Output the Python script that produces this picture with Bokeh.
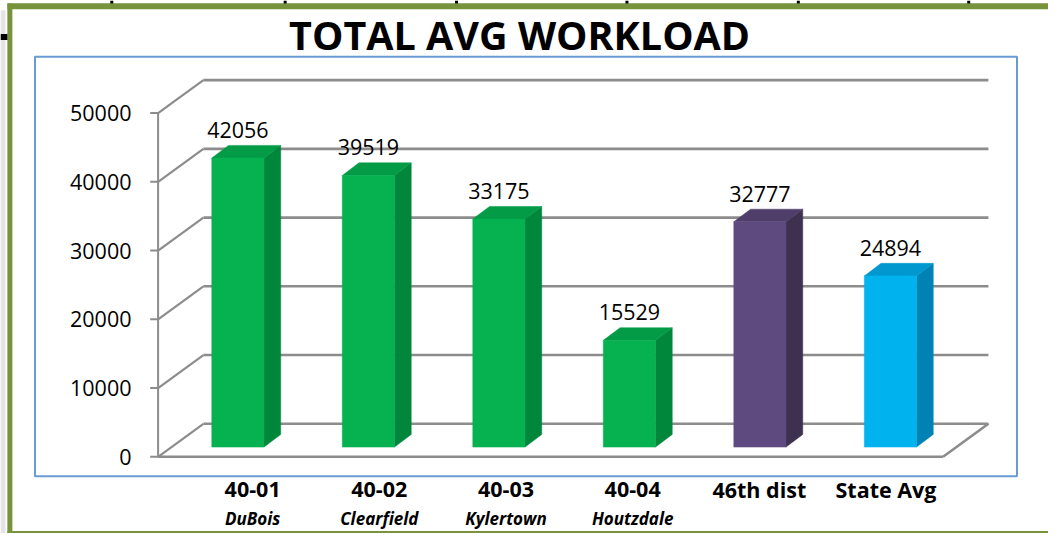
from bokeh.plotting import figure
from bokeh.models import Range1d
from bokeh.core.properties import value
from bokeh.embed import file_html
from bokeh.resources import INLINE

# ---------------- data ----------------
chart_title = "TOTAL AVG WORKLOAD"
codes = ["40-01", "40-02", "40-03", "40-04", "46th dist", "State Avg"]
towns = ["DuBois", "Clearfield", "Kylertown", "Houtzdale", "", ""]
workload = [42056, 39519, 33175, 15529, 32777, 24894]
y_ticks = [0, 10000, 20000, 30000, 40000, 50000]
y_tick_labels = ["0", "10000", "20000", "30000", "40000", "50000"]

# ---------------- styles ----------------
front_col = ["#06B150", "#06B150", "#06B150", "#06B150", "#5F4A80", "#00B3EF"]
side_col = ["#00873C", "#00873C", "#00873C", "#00873C", "#3E3150", "#0082B4"]
top_col = ["#039B46", "#039B46", "#039B46", "#039B46", "#4F3E6A", "#0098CF"]
GRID = "#8C8C8C"
OLIVE = "#77933C"
FONT = "Open Sans"

# ---------------- geometry (reference pixels) ----------------
W, H = 1048, 533
REF_W, REF_H = 1064, 549
SY = H / REF_H
PX = 354 / 50000.0           # reference pixels per unit of workload
Y0 = 470                     # reference row of value 0 on the front plane


def vy(ys):
    """reference row -> value units"""
    return (Y0 - ys) / PX


def dv(dpx):
    """reference pixel height -> value units"""
    return dpx / PX


def base_shift(fs):
    """renderer places alphabetic text ~0.4em low; compensate (reference px)"""
    return 0.4 * fs / SY


AX = 160          # front axis x
DX, DY = 46, 34   # wall depth
FLOOR_R = 957     # floor front right
BACK_R = 1003     # back wall right
BAR_X0, BAR_STEP, BAR_W = 241, 132.5, 53
BDX, BDY, BASE = 17, 13, 10
LAB_X0, LAB_STEP = 256, 128.6

p = figure(width=W, height=H, output_backend="svg", toolbar_location=None,
           x_range=Range1d(0, REF_W), y_range=Range1d(vy(REF_H), vy(0)),
           x_axis_type=None, y_axis_type=None, min_border=0,
           outline_line_color=None, background_fill_color="white",
           border_fill_color="white")
p.grid.visible = False

# slide frame (olive), shadow and bits of the table above
p.segment(x0=[2.5], y0=[vy(10)], x1=[2.5], y1=[vy(549)], line_color="#E4E4E4", line_width=5)
p.segment(x0=[7], y0=[vy(6)], x1=[REF_W], y1=[vy(6)], line_color=OLIVE, line_width=6)
p.segment(x0=[9.5], y0=[vy(3)], x1=[9.5], y1=[vy(549)], line_color=OLIVE, line_width=5)
p.segment(x0=[7], y0=[vy(547.5)], x1=[REF_W], y1=[vy(547.5)], line_color=OLIVE, line_width=2)
marks = [113, 289, 463, 636, 810, 983]
p.segment(x0=marks, y0=[vy(0)] * 6, x1=marks, y1=[vy(3)] * 6, line_color="black", line_width=3)
p.segment(x0=[0], y0=[vy(37.5)], x1=[7], y1=[vy(37.5)], line_color="black", line_width=6)

# chart box (blue)
p.quad(left=[35], right=[1032], bottom=[vy(490)], top=[vy(58)], fill_color=None,
       line_color="#6A9AD3", line_width=2)

# title
p.text(x=[527], y=[vy(52 - base_shift(39.5))], text=[chart_title], text_align="center",
       text_baseline="alphabetic", text_font=value(FONT), text_font_style="bold",
       text_font_size="39.5px", text_color="black")

# 3-D walls: side diagonals, back gridlines, floor
p.segment(x0=[AX] * len(y_ticks), y0=y_ticks,
          x1=[AX + DX] * len(y_ticks), y1=[t + dv(DY) for t in y_ticks],
          line_color=GRID, line_width=2.2)
p.segment(x0=[AX + DX] * len(y_ticks), y0=[t + dv(DY) for t in y_ticks],
          x1=[BACK_R] * len(y_ticks), y1=[t + dv(DY) for t in y_ticks],
          line_color=GRID, line_width=2.6)
p.segment(x0=[AX, FLOOR_R], y0=[0, 0], x1=[FLOOR_R, BACK_R], y1=[0, dv(DY)],
          line_color=GRID, line_width=2.6)
# axis + ticks
p.segment(x0=[AX], y0=[0], x1=[AX], y1=[y_ticks[-1]], line_color=GRID, line_width=2)
p.segment(x0=[AX - 8] * len(y_ticks), y0=y_ticks, x1=[AX] * len(y_ticks), y1=y_ticks,
          line_color=GRID, line_width=2)
p.text(x=[133] * len(y_ticks), y=[t - dv(9 - base_shift(21.5)) for t in y_ticks],
       text=y_tick_labels, text_align="right", text_baseline="alphabetic",
       text_font=value(FONT), text_font_size="21.5px", text_color="black")

# bars
xc = [BAR_X0 + i * BAR_STEP for i in range(len(workload))]
base = dv(BASE)
left = [c - BAR_W / 2 for c in xc]
right = [c + BAR_W / 2 for c in xc]
tops = [base + v for v in workload]
side_xs = [[r, r + BDX, r + BDX, r] for r in right]
side_ys = [[base, base + dv(BDY), t + dv(BDY), t] for t in tops]
top_xs = [[l, l + BDX, r + BDX, r] for l, r in zip(left, right)]
top_ys = [[t, t + dv(BDY), t + dv(BDY), t] for t in tops]
p.patches(xs=side_xs, ys=side_ys, fill_color=side_col, line_color=side_col, line_width=0.5)
p.patches(xs=top_xs, ys=top_ys, fill_color=top_col, line_color=top_col, line_width=0.5)
p.quad(left=left, right=right, bottom=[base] * len(xc), top=tops,
       fill_color=front_col, line_color=front_col, line_width=0.5)

# value labels
p.text(x=xc, y=[t + dv(BDY) + dv(7 + base_shift(21.5)) for t in tops],
       text=[str(v) for v in workload], text_align="center", text_baseline="alphabetic",
       text_font=value(FONT), text_font_size="21.5px", text_color="black")

# category labels
lx = [LAB_X0 + i * LAB_STEP for i in range(len(codes))]
p.text(x=lx, y=[vy(513 - base_shift(21.5))] * len(codes), text=codes, text_align="center",
       text_baseline="alphabetic", text_font=value(FONT), text_font_style="bold",
       text_font_size="21.5px", text_color="black")
p.text(x=lx, y=[vy(541 - base_shift(17))] * len(towns), text=towns, text_align="center",
       text_baseline="alphabetic", text_font=value(FONT), text_font_style="bold italic",
       text_font_size="17px", text_color="black")

open("out.html", "w").write(file_html(p, INLINE))
